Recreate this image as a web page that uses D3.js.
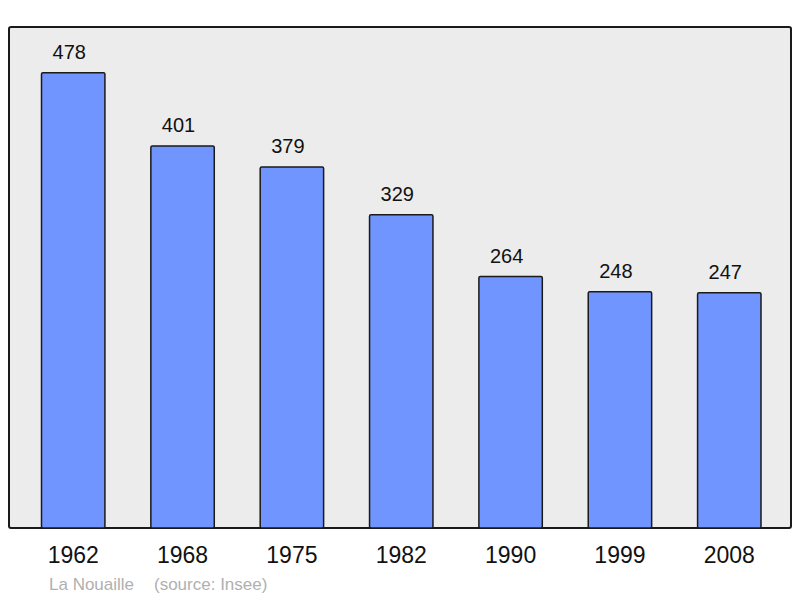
<!DOCTYPE html>
<html>
<head>
<meta charset="utf-8">
<script src="https://cdn.jsdelivr.net/npm/d3@7"></script>
<style>
  body { margin: 0; background: #fff; }
  text { font-family: "Liberation Sans", Arial, sans-serif; }
</style>
</head>
<body>
<div id="root"></div>
<script>
const width = 800
const height = 598

const years = ['1962', '1968', '1975', '1982', '1990', '1999', '2008']
const population = [478, 401, 379, 329, 264, 248, 247]
const commune = 'La Nouaille'
const source = '(source: Insee)'

const svg = d3.select('#root').append('svg').attr('width', width).attr('height', height)

// plot frame
const frame = { left: 9, top: 27, right: 791, bottom: 528 }

svg
  .append('rect')
  .attr('x', frame.left)
  .attr('y', frame.top)
  .attr('width', frame.right - frame.left)
  .attr('height', frame.bottom - frame.top)
  .attr('rx', 2)
  .attr('fill', '#ececec')
  .attr('stroke', '#1a1a1a')
  .attr('stroke-width', 2)

const x = d3.scaleBand().domain(years).range([41.5, 761]).paddingInner(0.42).paddingOuter(0)
const y = d3.scaleLinear().domain([0, 526]).range([frame.bottom, frame.top])

const data = years.map((year, i) => ({ year, value: population[i] }))

svg
  .append('g')
  .selectAll('rect')
  .data(data)
  .join('rect')
  .attr('x', (d) => x(d.year))
  .attr('y', (d) => y(d.value))
  .attr('width', x.bandwidth())
  .attr('height', (d) => y(0) - y(d.value))
  .attr('rx', 1.5)
  .attr('fill', '#7095ff')
  .attr('stroke', '#1a1a1a')
  .attr('stroke-width', 1.5)

// value labels sit a little left of the bar centre in the original
svg
  .append('g')
  .selectAll('text')
  .data(data)
  .join('text')
  .attr('x', (d) => x(d.year) + x.bandwidth() / 2 - 4)
  .attr('y', (d) => y(d.value) - 14)
  .attr('text-anchor', 'middle')
  .attr('font-size', 20)
  .attr('fill', '#111')
  .text((d) => d.value)

// year axis, no line
const axis = svg
  .append('g')
  .attr('transform', `translate(0, ${frame.bottom})`)
  .call(d3.axisBottom(x).tickSize(0).tickPadding(19))
axis.select('.domain').remove()
axis.selectAll('text').attr('font-size', 23).attr('fill', '#111').attr('font-family', '"Liberation Sans", Arial, sans-serif')

svg
  .append('text')
  .attr('x', 49)
  .attr('y', 590)
  .attr('font-size', 17)
  .attr('fill', '#b0b0b0')
  .text(commune)

svg
  .append('text')
  .attr('x', 154)
  .attr('y', 590)
  .attr('font-size', 17)
  .attr('fill', '#b0b0b0')
  .text(source)
</script>
</body>
</html>
